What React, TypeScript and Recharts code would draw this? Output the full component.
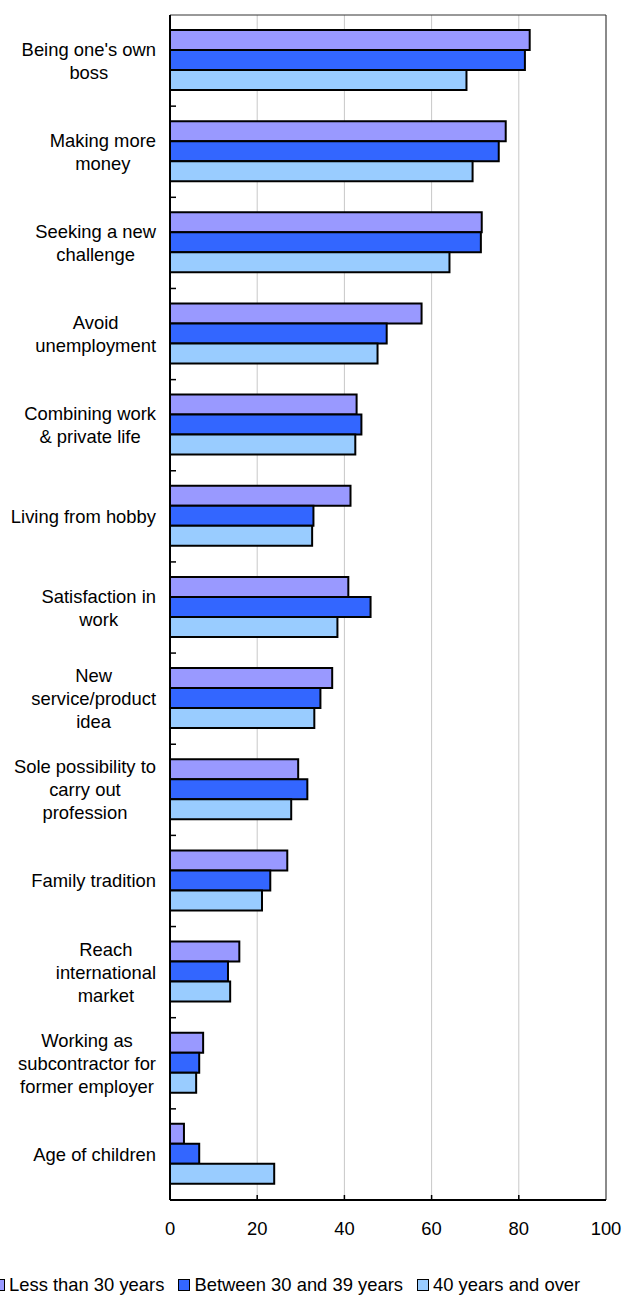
import { BarChart, Bar, XAxis, YAxis, CartesianGrid, ReferenceArea } from 'recharts';

const CATEGORIES = [
  "Being one's own boss",
  'Making more money',
  'Seeking a new challenge',
  'Avoid unemployment',
  'Combining work & private life',
  'Living from hobby',
  'Satisfaction in work',
  'New service/product idea',
  'Sole possibility to carry out profession',
  'Family tradition',
  'Reach international market',
  'Working as subcontractor for former employer',
  'Age of children',
];

const UNDER_30 = [82.5, 77.0, 71.5, 57.7, 42.8, 41.4, 40.9, 37.2, 29.4, 26.9, 15.9, 7.6, 3.2];
const FROM_30_TO_39 = [81.4, 75.4, 71.3, 49.7, 43.9, 32.9, 46.0, 34.5, 31.5, 23.0, 13.3, 6.7, 6.7];
const OVER_40 = [68.0, 69.4, 64.1, 47.6, 42.5, 32.6, 38.4, 33.1, 27.8, 21.1, 13.8, 6.0, 23.9];

const SERIES = [
  { key: 'under30', name: 'Less than 30 years', color: '#9999ff', values: UNDER_30 },
  { key: 'from30to39', name: 'Between 30 and 39 years', color: '#3366ff', values: FROM_30_TO_39 },
  { key: 'over40', name: '40 years and over', color: '#99ccff', values: OVER_40 },
];

const X_TICKS = [0, 20, 40, 60, 80, 100];

const WIDTH = 622;
const HEIGHT = 1295;
const MARGIN = { top: 15, right: 16, bottom: 55, left: 0 };
const X_AXIS_HEIGHT = 40;
const Y_AXIS_WIDTH = 170;
const PLOT_H = HEIGHT - MARGIN.top - MARGIN.bottom - X_AXIS_HEIGHT;
const BAND = PLOT_H / CATEGORIES.length;

const FONT = '"Liberation Sans", Arial, sans-serif';
const FONT_SIZE = 18.4;
const LINE_H = 23;
const MAX_LABEL_W = 146;

const data = CATEGORIES.map((name, i) => {
  const row: Record<string, string | number> = { name };
  SERIES.forEach(s => { row[s.key] = s.values[i]; });
  return row;
});

let ctx: CanvasRenderingContext2D | null = null;
function measure(text: string) {
  if (!ctx) {
    ctx = document.createElement('canvas').getContext('2d');
    if (ctx) ctx.font = `${FONT_SIZE}px ${FONT}`;
  }
  return ctx ? ctx.measureText(text).width : text.length * 9;
}

// greedy word wrap, like the spreadsheet does it
function wrapLabel(text: string) {
  const words = text.split(' ');
  const lines: string[] = [];
  let cur = '';
  for (const w of words) {
    const next = cur ? cur + ' ' + w : w;
    if (cur && measure(next) > MAX_LABEL_W) {
      lines.push(cur);
      cur = w;
    } else {
      cur = next;
    }
  }
  if (cur) lines.push(cur);
  return lines;
}

function CategoryTick(props: any) {
  const { x, y, payload, index } = props;
  const lines = wrapLabel(String(payload.value));
  const blockW = Math.max(...lines.map(measure));
  const cx = x - 14 - blockW / 2;
  return (
    <g>
      {index < CATEGORIES.length - 1 && (
        <line x1={x} x2={x + 6} y1={y + BAND / 2} y2={y + BAND / 2} stroke="#000" strokeWidth={1.5} />
      )}
      <text textAnchor="middle" fontSize={FONT_SIZE} fontFamily={FONT} fill="#000">
        {lines.map((l, i) => (
          <tspan key={i} x={cx} y={y + (i - (lines.length - 1) / 2) * LINE_H + 6.5}>
            {l}
          </tspan>
        ))}
      </text>
    </g>
  );
}

function ValueTick(props: any) {
  const { x, y, payload } = props;
  return (
    <g>
      {payload.value > 0 && payload.value < 100 && (
        <line x1={x} x2={x} y1={y} y2={y - 5} stroke="#000" strokeWidth={1.5} />
      )}
      <text x={x} y={y + 34.5} textAnchor="middle" fontSize={FONT_SIZE} fontFamily={FONT} fill="#000">
        {payload.value}
      </text>
    </g>
  );
}

export default function App() {
  return (
    <div style={{ position: 'absolute', left: 0, top: 0, width: WIDTH, height: HEIGHT, background: '#fff' }}>
      <BarChart
        width={WIDTH}
        height={HEIGHT}
        data={data}
        layout="vertical"
        margin={MARGIN}
        barCategoryGap={15}
        barGap={0}
      >
        <CartesianGrid horizontal={false} stroke="#c8c8c8" strokeWidth={1} />
        <ReferenceArea x1={0} x2={100} fill="none" stroke="#333" strokeWidth={1} ifOverflow="visible" />
        <XAxis
          type="number"
          domain={[0, 100]}
          ticks={X_TICKS}
          height={X_AXIS_HEIGHT}
          tickSize={0}
          tickMargin={0}
          tickLine={false}
          axisLine={{ stroke: '#000', strokeWidth: 2 }}
          tick={<ValueTick />}
        />
        <YAxis
          type="category"
          dataKey="name"
          width={Y_AXIS_WIDTH}
          tickSize={0}
          tickMargin={0}
          tickLine={false}
          interval={0}
          axisLine={{ stroke: '#000', strokeWidth: 2 }}
          tick={<CategoryTick />}
        />
        {SERIES.map(s => (
          <Bar
            key={s.key}
            dataKey={s.key}
            name={s.name}
            fill={s.color}
            stroke="#000"
            strokeWidth={2}
            isAnimationActive={false}
          />
        ))}
      </BarChart>

      <div
        style={{
          position: 'absolute',
          left: -7,
          top: 1275,
          display: 'flex',
          alignItems: 'center',
          gap: 14,
          whiteSpace: 'nowrap',
          fontFamily: FONT,
          fontSize: FONT_SIZE,
          lineHeight: '20px',
          color: '#000',
        }}
      >
        {SERIES.map(s => (
          <div key={s.key} style={{ display: 'flex', alignItems: 'center' }}>
            <span
              style={{
                width: 10,
                height: 10,
                background: s.color,
                border: '1.5px solid #000',
                marginRight: 4,
                display: 'inline-block',
              }}
            />
            <span>{s.name}</span>
          </div>
        ))}
      </div>
    </div>
  );
}
